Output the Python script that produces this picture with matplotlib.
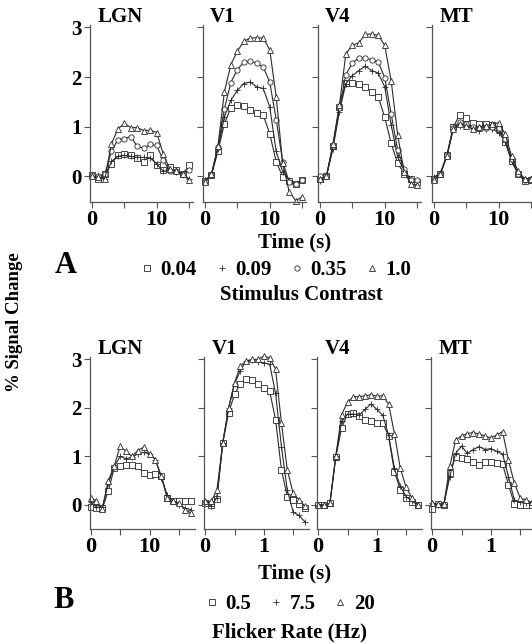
import matplotlib
matplotlib.use("Agg")
import matplotlib.pyplot as plt
from matplotlib.lines import Line2D

W, H = 532, 644
SERIF = "Liberation Serif"
plt.rcParams['font.family'] = [SERIF, 'DejaVu Serif']
plt.rcParams['font.weight'] = 'bold'

# ---- data: A, stimulus contrast (time in s) ----
t_contrast = [0, 1, 2, 3, 4, 5, 6, 7, 8, 9, 10, 11, 12, 13, 14, 15]
contrast_labels = ["0.04", "0.09", "0.35", "1.0"]

lgn_c004 = [0.02, -0.05, 0.05, 0.25, 0.42, 0.44, 0.42, 0.36, 0.29, 0.42, 0.22, 0.12, 0.19, 0.12, 0.05, 0.22]
lgn_c009 = [0.0, 0.02, -0.05, 0.30, 0.40, 0.42, 0.40, 0.38, 0.38, 0.37, 0.25, 0.10, 0.12, 0.08, 0.03, -0.05]
lgn_c035 = [0.03, 0.0, 0.05, 0.50, 0.74, 0.76, 0.80, 0.60, 0.57, 0.64, 0.62, 0.32, 0.11, 0.10, 0.05, 0.12]
lgn_c100 = [0.0, -0.02, -0.05, 0.65, 0.95, 1.07, 0.98, 0.98, 0.92, 0.93, 0.88, 0.45, 0.15, 0.10, 0.05, -0.08]

v1_c004 = [-0.10, 0.02, 0.50, 1.06, 1.38, 1.43, 1.42, 1.33, 1.28, 1.23, 0.86, 0.29, -0.01, -0.09, -0.15, -0.07]
v1_c009 = [-0.08, 0.03, 0.55, 1.20, 1.53, 1.73, 1.87, 1.90, 1.80, 1.77, 1.40, 0.50, 0.09, -0.08, -0.15, -0.08]
v1_c035 = [-0.10, 0.03, 0.58, 1.36, 1.89, 2.15, 2.30, 2.32, 2.28, 2.20, 1.90, 1.14, 0.29, -0.11, -0.15, -0.08]
v1_c100 = [-0.11, 0.04, 0.60, 1.70, 2.25, 2.52, 2.72, 2.79, 2.79, 2.79, 2.55, 1.60, 0.26, -0.31, -0.49, -0.42]

v4_c004 = [-0.05, 0.0, 0.60, 1.40, 1.89, 1.88, 1.85, 1.80, 1.70, 1.60, 1.19, 0.66, 0.26, 0.05, -0.05, -0.11]
v4_c009 = [-0.10, 0.0, 0.55, 1.30, 1.87, 2.03, 2.13, 2.22, 2.13, 2.08, 1.80, 1.03, 0.39, 0.10, -0.05, -0.10]
v4_c035 = [0.0, 0.0, 0.60, 1.38, 2.05, 2.28, 2.39, 2.38, 2.35, 2.30, 1.99, 1.25, 0.52, 0.15, -0.08, -0.08]
v4_c100 = [-0.05, 0.0, 0.65, 1.43, 2.47, 2.64, 2.69, 2.86, 2.87, 2.84, 2.64, 1.92, 0.83, 0.09, -0.15, -0.18]

mt_c004 = [-0.05, 0.05, 0.42, 1.00, 1.24, 1.17, 1.08, 1.05, 1.05, 1.03, 0.95, 0.70, 0.30, 0.05, -0.10, -0.08]
mt_c009 = [-0.02, 0.07, 0.40, 1.00, 1.02, 1.02, 0.97, 0.92, 0.95, 0.95, 0.88, 0.70, 0.30, 0.05, -0.05, -0.05]
mt_c035 = [-0.05, 0.05, 0.43, 0.98, 1.10, 1.05, 1.00, 0.98, 0.97, 1.00, 0.98, 0.75, 0.35, 0.05, -0.08, -0.05]
mt_c100 = [-0.08, 0.05, 0.40, 0.95, 1.05, 1.02, 0.95, 1.00, 1.02, 1.05, 1.08, 0.85, 0.40, 0.10, -0.05, -0.05]

# ---- data: B, flicker rate ----
t_flicker_lgn = [0, 1, 2, 3, 4, 5, 6, 7, 8, 9, 10, 11, 12, 13, 14, 15, 16, 17]
t_flicker = [0.0, 0.1, 0.2, 0.3, 0.4, 0.5, 0.6, 0.7, 0.8, 0.9, 1.0, 1.1, 1.2, 1.3, 1.4, 1.5, 1.6, 1.7]
flicker_labels = ["0.5", "7.5", "20"]

lgn_f05 = [-0.05, -0.07, -0.07, 0.28, 0.76, 0.81, 0.83, 0.83, 0.80, 0.65, 0.62, 0.63, 0.60, 0.14, 0.08, 0.08, 0.08, 0.08]
lgn_f75 = [0.05, -0.05, -0.05, 0.45, 0.78, 1.00, 0.95, 0.98, 1.05, 1.08, 1.05, 0.93, 0.55, 0.20, 0.08, 0.0, -0.07, -0.10]
lgn_f20 = [0.15, 0.08, -0.08, 0.50, 0.79, 1.21, 1.10, 1.00, 1.12, 1.19, 1.05, 0.93, 0.59, 0.14, 0.08, 0.03, -0.10, -0.17]

v1_f05 = [0.03, 0.0, 0.12, 1.28, 1.90, 2.28, 2.50, 2.60, 2.58, 2.50, 2.42, 2.34, 1.76, 0.72, 0.17, 0.10, 0.01, -0.07]
v1_f75 = [0.05, -0.03, 0.15, 1.28, 2.00, 2.50, 2.77, 2.97, 2.98, 2.95, 2.93, 2.90, 2.30, 1.20, 0.30, -0.15, -0.22, -0.35]
v1_f20 = [0.07, 0.07, 0.30, 1.28, 2.00, 2.52, 2.86, 2.97, 3.00, 3.00, 3.07, 3.03, 2.80, 1.69, 0.72, 0.24, 0.10, -0.03]

v4_f05 = [0.0, 0.0, 0.03, 0.98, 1.59, 1.87, 1.90, 1.83, 1.76, 1.73, 1.68, 1.69, 1.42, 0.68, 0.31, 0.14, 0.05, 0.0]
v4_f75 = [0.0, 0.0, 0.03, 1.00, 1.72, 1.87, 1.87, 1.85, 1.97, 2.08, 1.97, 1.85, 1.44, 0.75, 0.38, 0.17, 0.07, 0.0]
v4_f20 = [0.0, 0.0, 0.03, 1.00, 1.86, 2.12, 2.23, 2.23, 2.25, 2.27, 2.24, 2.25, 2.08, 1.47, 0.75, 0.36, 0.14, 0.0]

mt_f05 = [-0.08, 0.02, 0.0, 0.65, 0.99, 0.96, 0.94, 0.89, 0.82, 0.89, 0.89, 0.87, 0.84, 0.41, 0.02, 0.0, 0.0, 0.0]
mt_f75 = [0.03, 0.0, 0.02, 0.58, 1.06, 1.21, 1.06, 1.14, 1.20, 1.14, 1.16, 1.10, 1.05, 0.58, 0.10, 0.05, 0.03, 0.02]
mt_f20 = [0.03, 0.02, 0.02, 0.79, 1.34, 1.42, 1.47, 1.49, 1.46, 1.42, 1.38, 1.44, 1.51, 0.92, 0.45, 0.14, 0.10, 0.05]

areas = ["LGN", "V1", "V4", "MT"]
markers_c = ['s', '+', 'o', '^']
markers_f = ['s', '+', '^']

LINE = '#2a2a2a'
SPINE = '#555555'


def px_axes(fig, left, top, width, height):
    return fig.add_axes([left / W, 1 - (top + height) / H, width / W, height / H])


def style_axes(ax, xlim, major, minor, ylim, show_y):
    ax.set_xlim(*xlim)
    ax.set_ylim(*ylim)
    for s in ['top', 'right']:
        ax.spines[s].set_visible(False)
    for s in ['left', 'bottom']:
        ax.spines[s].set_color(SPINE)
        ax.spines[s].set_linewidth(0.9)
    ax.set_xticks(major)
    ax.set_xticklabels([f"{m:g}" for m in major], fontsize=16, fontweight='bold')
    ax.set_xticks(minor, minor=True)
    ax.set_yticks([0, 1, 2, 3])
    if show_y:
        ax.set_yticklabels(["0", "1", "2", "3"], fontsize=15, fontweight='bold')
    else:
        ax.set_yticklabels([])
    ax.tick_params(axis='both', which='both', direction='out', length=4,
                   width=0.8, color=SPINE, pad=2)
    ax.patch.set_alpha(0)


def draw(ax, t, series, markers):
    for y, m in zip(series, markers):
        ax.plot(t, y, color=LINE, lw=0.8, marker=m, ms=3.8 if m != '+' else 4.4,
                mfc='white', mec=LINE, mew=0.6, clip_on=False)


def title(ax, name, height):
    ax.text(0.07, 1 + 8 / height, name, transform=ax.transAxes, fontsize=15,
            fontweight='bold', va='center', ha='left')


fig = plt.figure(figsize=(W / 100, H / 100), dpi=100)

# row A
top_lefts = [90, 203, 318, 432]
contrast_data = [
    [lgn_c004, lgn_c009, lgn_c035, lgn_c100],
    [v1_c004, v1_c009, v1_c035, v1_c100],
    [v4_c004, v4_c009, v4_c035, v4_c100],
    [mt_c004, mt_c009, mt_c035, mt_c100],
]
for i, (left, name, series) in enumerate(zip(top_lefts, areas, contrast_data)):
    ax = px_axes(fig, left, 25, 103, 177)
    draw(ax, t_contrast, series, markers_c)
    style_axes(ax, (-0.3, 15.6), [0, 10], [5, 15], (-0.52, 3.05), i == 0)
    title(ax, name, 177)

# row B
bot_lefts = [90, 204, 317, 431]
flicker_data = [
    [lgn_f05, lgn_f75, lgn_f20],
    [v1_f05, v1_f75, v1_f20],
    [v4_f05, v4_f75, v4_f20],
    [mt_f05, mt_f75, mt_f20],
]
for i, (left, name, series) in enumerate(zip(bot_lefts, areas, flicker_data)):
    ax = px_axes(fig, left, 357, 105, 172)
    if i == 0:
        draw(ax, t_flicker_lgn, series, markers_f)
        style_axes(ax, (-0.1, 17.7), [0, 10], [5, 15], (-0.5, 3.05), True)
    else:
        draw(ax, t_flicker, series, markers_f)
        style_axes(ax, (-0.02, 1.77), [0, 1], [0.5, 1.5], (-0.5, 3.05), False)
    title(ax, name, 172)


def ftext(x, y, s, **kw):
    fig.text(x / W, 1 - y / H, s, ha='center', va='center', fontweight='bold', **kw)


ftext(15, 322, "% Signal Change", fontsize=13.5, rotation=90)
ftext(295, 242, "Time (s)", fontsize=15)
ftext(66, 265, "A", fontsize=22)
ftext(301, 295, "Stimulus Contrast", fontsize=15)
ftext(295, 573, "Time (s)", fontsize=15)
ftext(64, 601, "B", fontsize=22)
ftext(289, 632, "Flicker Rate (Hz)", fontsize=15)


def legend(markers, labels, x, y):
    handles = [Line2D([], [], ls='none', marker=m, ms=3.8 if m != '+' else 4.4,
                      mfc='white', mec=LINE, mew=0.6) for m in markers]
    fig.legend(handles, labels, loc='center', bbox_to_anchor=(x / W, 1 - y / H),
               ncol=len(labels), frameon=False, handlelength=0.6,
               handletextpad=0.35, columnspacing=0.9,
               prop={'family': SERIF, 'weight': 'bold', 'size': 15})


legend(markers_c, contrast_labels, 276, 270)
legend(markers_f, flicker_labels, 290, 604)

fig.savefig("out.png", dpi=100)
